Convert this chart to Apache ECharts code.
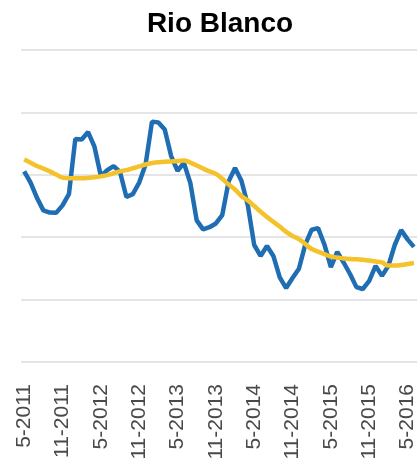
<!DOCTYPE html>
<html>
<head>
<meta charset="utf-8">
<script src="https://cdn.jsdelivr.net/npm/echarts@6/dist/echarts.min.js"></script>
<style>
html,body{margin:0;padding:0;background:#fff;}
#chart{width:418px;height:466px;}
</style>
</head>
<body>
<div id="chart"></div>
<script>
var categories = [
  "5-2011","6-2011","7-2011","8-2011","9-2011","10-2011","11-2011","12-2011",
  "1-2012","2-2012","3-2012","4-2012","5-2012","6-2012","7-2012","8-2012","9-2012","10-2012","11-2012","12-2012",
  "1-2013","2-2013","3-2013","4-2013","5-2013","6-2013","7-2013","8-2013","9-2013","10-2013","11-2013","12-2013",
  "1-2014","2-2014","3-2014","4-2014","5-2014","6-2014","7-2014","8-2014","9-2014","10-2014","11-2014","12-2014",
  "1-2015","2-2015","3-2015","4-2015","5-2015","6-2015","7-2015","8-2015","9-2015","10-2015","11-2015","12-2015",
  "1-2016","2-2016","3-2016","4-2016","5-2016","6-2016"
];
var monthly = [
  61.1,57.5,52.6,48.6,47.9,47.8,50.2,53.8,
  71.5,71.3,73.7,69.0,59.6,61.5,62.8,60.9,52.9,53.8,57.5,63.3,
  77.0,76.8,74.5,66.0,61.3,63.8,57.4,45.4,42.5,43.2,44.4,47.1,
  57.9,62.2,58.1,50.3,37.5,34.0,37.2,34.0,27.1,23.7,26.9,29.9,
  37.7,42.4,42.9,37.6,30.4,35.3,31.9,28.2,24.0,23.4,26.0,30.8,
  27.6,30.8,37.5,42.3,39.3,36.9
];
var trend = [
  64.9,63.9,62.8,62.0,61.1,60.1,59.1,58.9,
  58.9,58.9,59.0,59.2,59.5,59.9,60.5,61.1,61.5,62.1,62.7,63.3,
  63.8,64.0,64.2,64.3,64.4,64.6,63.9,63.0,62.0,61.1,60.3,58.7,
  56.9,55.3,53.2,51.8,50.0,48.2,46.5,44.9,43.4,41.7,40.4,39.4,
  37.8,36.2,35.4,34.6,33.8,33.5,33.2,33.0,32.9,32.8,32.5,32.2,
  31.9,30.9,30.9,31.1,31.4,31.7
];
var titleText = "Rio Blanco";

var chart = echarts.init(document.getElementById('chart'), null, {renderer:'canvas'});
chart.setOption({
  animation: false,
  backgroundColor: '#ffffff',
  title: {
    text: titleText,
    left: 215,
    textAlign: 'center',
    top: 5,
    textStyle: {fontFamily: 'Liberation Sans', fontWeight: 'bold', fontSize: 28, color: '#000000'}
  },
  grid: {left: 21, width: 400, top: 50, height: 312, containLabel: false},
  xAxis: {
    type: 'category',
    data: categories,
    boundaryGap: true,
    axisLine: {show: false},
    axisTick: {show: false},
    splitLine: {show: false},
    axisLabel: {
      interval: 5,
      rotate: 90,
      margin: 22,
      fontFamily: 'Liberation Sans',
      fontSize: 21,
      color: '#4a4a4a'
    }
  },
  yAxis: {
    type: 'value',
    min: 0,
    max: 100,
    interval: 20,
    axisLabel: {show: false},
    axisLine: {show: false},
    axisTick: {show: false},
    splitLine: {lineStyle: {color: '#dcdcdc', width: 1.5}}
  },
  series: [
    {
      type: 'line',
      data: monthly,
      showSymbol: false,
      lineStyle: {color: '#1f6db3', width: 4.5},
      z: 2
    },
    {
      type: 'line',
      data: trend,
      smooth: true,
      showSymbol: false,
      lineStyle: {color: '#f4c22b', width: 4.5},
      z: 3
    }
  ]
});
</script>
</body>
</html>
